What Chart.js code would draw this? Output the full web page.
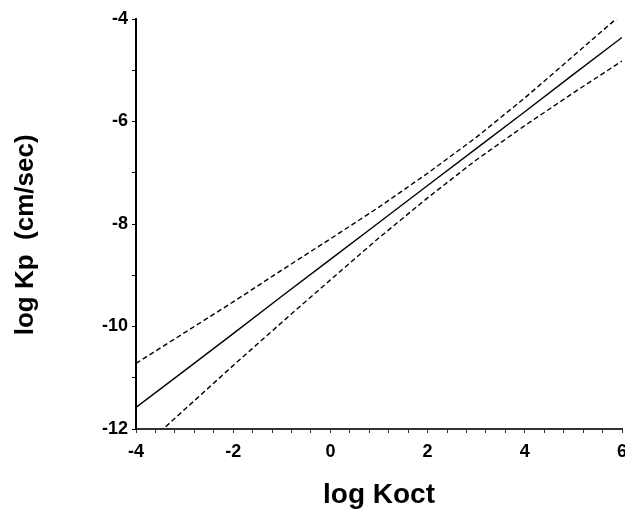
<!DOCTYPE html>
<html>
<head>
<meta charset="utf-8">
<script src="https://cdn.jsdelivr.net/npm/chart.js@4"></script>
<style>
  html, body { margin: 0; padding: 0; background: #fff; overflow: hidden; }
  #wrap { width: 640px; height: 512px; }
</style>
</head>
<body>
<div id="wrap"><canvas id="kpCanvas" width="640" height="512"></canvas></div>
<script>
// values
const logKoct = [-4, -3, -2, -1, 0, 1, 2, 3, 4, 5, 6];
const fitKp   = [-11.58, -10.86, -10.14, -9.41, -8.69, -7.97, -7.25, -6.53, -5.81, -5.08, -4.36];
const upperKp = [-10.72, -10.12, -9.52, -8.90, -8.29, -7.67, -7.01, -6.31, -5.54, -4.72, -3.90];
const lowerKp = [-12.48, -11.62, -10.76, -9.92, -9.09, -8.27, -7.49, -6.75, -6.08, -5.44, -4.82];

const xTickLabels = [-4, -2, 0, 2, 4, 6];
const yTickLabels = [-12, -10, -8, -6, -4];

function toPoints(ys) {
    return logKoct.map((x, i) => ({x: x, y: ys[i]}));
}

function onList(list, v) {
    return list.some(t => Math.abs(t - v) < 1e-6);
}

const fontFamily = '"Liberation Sans", Arial, Helvetica, sans-serif';

new Chart(document.getElementById('kpCanvas'), {
    type: 'line',
    data: {
        datasets: [
            {
                label: 'fit',
                data: toPoints(fitKp),
                borderColor: '#000',
                borderWidth: 1.4,
                pointRadius: 0,
                clip: 0
            },
            {
                label: 'upper',
                data: toPoints(upperKp),
                borderColor: '#000',
                borderWidth: 1.4,
                borderDash: [5, 3],
                pointRadius: 0,
                clip: 0
            },
            {
                label: 'lower',
                data: toPoints(lowerKp),
                borderColor: '#000',
                borderWidth: 1.4,
                borderDash: [5, 3],
                pointRadius: 0,
                clip: 0
            }
        ]
    },
    options: {
        responsive: false,
        animation: false,
        layout: { padding: { left: 0, right: 18, top: 19, bottom: 0 } },
        plugins: { legend: { display: false }, tooltip: { enabled: false } },
        scales: {
            x: {
                type: 'linear',
                min: -4,
                max: 6,
                afterFit: s => { s.height = 83; },
                border: { display: true, color: '#333', width: 2 },
                grid: { drawOnChartArea: false, drawTicks: true, tickLength: 4, color: '#333' },
                ticks: {
                    stepSize: 0.4,
                    autoSkip: false,
                    maxRotation: 0,
                    padding: 8,
                    color: '#000',
                    font: { family: fontFamily, size: 18, weight: 'bold' },
                    callback: v => onList(xTickLabels, v) ? String(Math.round(v)) : ''
                },
                title: {
                    display: true,
                    text: 'log Koct',
                    color: '#000',
                    padding: { top: 0, bottom: 0 },
                    font: { family: fontFamily, size: 28, weight: 'bold' }
                }
            },
            y: {
                type: 'linear',
                min: -12,
                max: -4,
                afterFit: s => { s.width = 136; },
                border: { display: true, color: '#000', width: 2 },
                grid: { drawOnChartArea: false, drawTicks: true, tickLength: 4, color: '#000' },
                ticks: {
                    stepSize: 1,
                    autoSkip: false,
                    padding: 4,
                    color: '#000',
                    font: { family: fontFamily, size: 18, weight: 'bold' },
                    callback: v => onList(yTickLabels, v) ? String(Math.round(v)) : ''
                },
                title: {
                    display: true,
                    // trailing spaces push the text down to where it sits in the figure
                    text: 'log Kp  (cm/sec)   ',
                    color: '#000',
                    padding: { top: 10, bottom: 0 },
                    font: { family: fontFamily, size: 26, weight: 'bold' }
                }
            }
        }
    }
});
</script>
</body>
</html>
